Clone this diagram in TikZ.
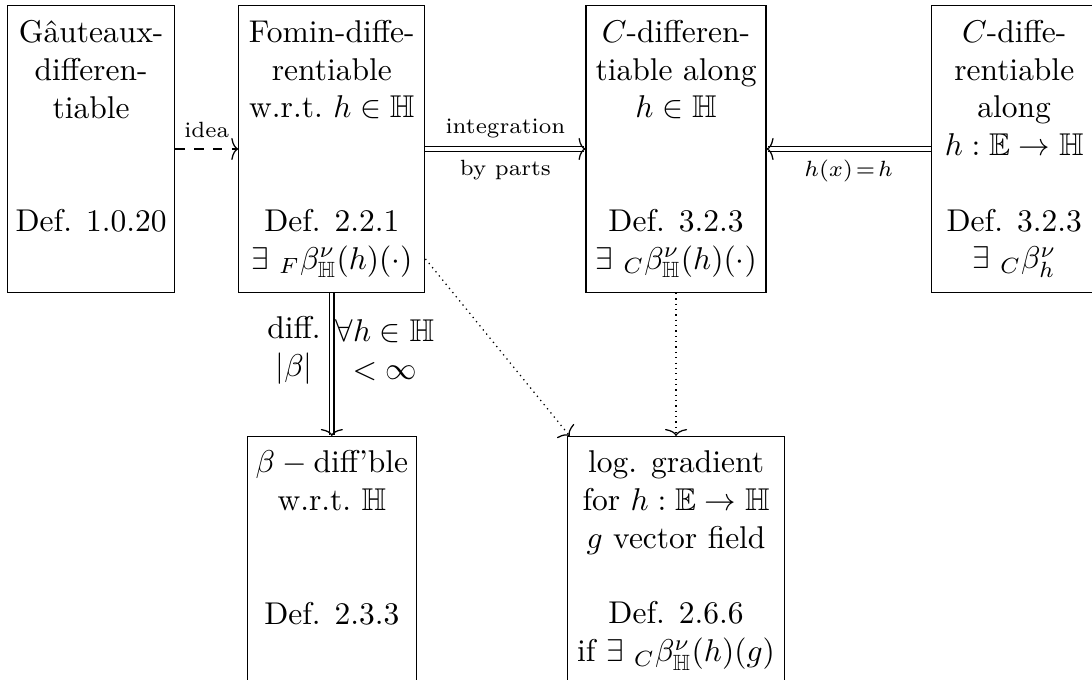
\documentclass[tikz,border=0pt]{standalone}
\usepackage{amsmath,amssymb}
\usetikzlibrary{positioning,arrows.meta}

\begin{document}
\begin{tikzpicture}[block/.style={draw,rectangle,align=center,anchor=north,inner xsep=2pt,inner ysep=4.5pt},
        tall/.style={block,minimum height=3.2cm},
        lbl/.style={font=\scriptsize},
        tip/.style={-{To[line width=0.4pt,length=2.2pt,width=7pt]}},
        impl/.style={double,double distance=1pt,tip},
        weak/.style={dash pattern=on 0.4pt off 1.3pt,tip}]
   \useasboundingbox (0,0) rectangle (12.19,-7.59);
   % top row: the four notions of differentiability
   \node (A) [tall,minimum width=1.864cm,anchor=north west] at (0.078,-0.056)
      {G\^auteaux-\\differen-\\tiable\\[24pt]Def. 1.0.20\\ \vphantom{(}};
   \node (B) [tall,minimum width=2.076cm,right=0.703cm of A]
      {Fomin-diffe-\\rentiable\\w.r.t.\ $h\in\mathbb{H}$\\[24pt]Def. 2.2.1\\
       $\exists\ {}_F\beta^{\nu}_{\mathbb{H}}(h)(\cdot)$};
   \node (C) [tall,minimum width=2.009cm,right=1.786cm of B]
      {$C$-differen-\\tiable along\\$h\in\mathbb{H}$\\[24pt]Def. 3.2.3\\
       $\exists\ {}_C\beta^{\nu}_{\mathbb{H}}(h)(\cdot)$};
   \node (D) [tall,minimum width=1.853cm,right=1.83cm of C]
      {$C$-diffe-\\rentiable\\along\\$h:\mathbb{E}\to\mathbb{H}$\\[12pt]Def. 3.2.3\\
       $\exists\ {}_C\beta^{\nu}_{h}$};
   % bottom row
   \node (E) [block,minimum width=1.886cm,below=1.596cm of B]
      {$\beta-{}$diff'ble\\w.r.t.\ $\mathbb{H}$\\[24pt]Def. 2.3.3\\[12pt]\mbox{}};
   \node (F) [block,minimum width=2.422cm,below=1.596cm of C]
      {log. gradient\\for $h:\mathbb{E}\to\mathbb{H}$\\$g$ vector field\\[12pt]Def. 2.6.6\\
       if $\exists\ {}_C\beta^{\nu}_{\mathbb{H}}(h)(g)$\\[6pt]\mbox{}};
   % implications
   \draw[dashed,tip] (A) -- (B) node[lbl,midway,above] {idea};
   \draw[impl] (B) -- (C) node[lbl,midway,above] {integration}
                          node[lbl,midway,below] {by parts};
   \draw[impl] (D) -- (C) node[lbl,midway,below] {$h(x)\!=\!h$};
   \draw[impl] (B) -- (E) node[pos=0.4,left,align=center] {diff.\\$|\beta|$}
                          node[pos=0.4,right,align=center,inner xsep=1pt] {$\forall h\in\mathbb{H}$\\$<\infty$};
   \draw[weak] ([yshift=0.38cm]B.south east) -- ([xshift=0.03cm]F.north west);
   \draw[weak] (C) -- (F);
\end{tikzpicture}
\end{document}
